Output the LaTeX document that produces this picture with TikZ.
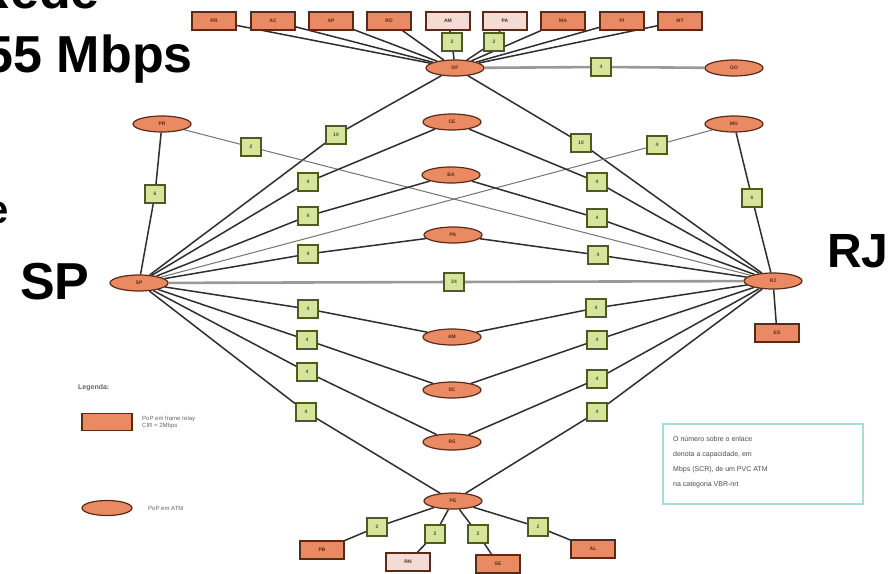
\documentclass[tikz,border=0pt]{standalone}
\usepackage{fontspec}
\setmainfont{Liberation Sans}
\usetikzlibrary{shapes.geometric}
\definecolor{popfill}{HTML}{E98A62}
\definecolor{popedge}{HTML}{5A2A18}
\definecolor{palefill}{HTML}{F2DCD4}
\definecolor{linkfill}{HTML}{D6E49C}
\definecolor{linkedge}{HTML}{4E5A22}
\definecolor{wirecol}{HTML}{2E2E2E}
\definecolor{noteedge}{HTML}{A6DCD2}
\pgfdeclarelayer{bg}
\pgfsetlayers{bg,main}
\tikzset{
  atm/.style={ellipse, draw=popedge, fill=popfill, line width=1.2pt,
    minimum width=58pt, minimum height=16pt, inner sep=0pt,
    font=\fontsize{5}{5}\selectfont\bfseries, text=popedge},
  fr/.style={rectangle, draw=popedge, fill=popfill, line width=1.4pt,
    minimum width=44pt, minimum height=18pt, inner sep=0pt,
    font=\fontsize{5}{5}\selectfont\bfseries, text=popedge},
  frpale/.style={fr, fill=palefill},
  linkbox/.style={rectangle, draw=linkedge, fill=linkfill, line width=1.3pt,
    minimum width=20pt, minimum height=18pt, inner sep=0pt,
    font=\fontsize{5}{5}\selectfont\bfseries, text=linkedge},
  wire/.style={draw=wirecol, line width=1.5pt},
  thinwire/.style={draw=black!55, line width=1pt},
  trunk/.style={draw=black!40, line width=2.6pt},
  bigtxt/.style={font=\fontsize{52}{52}\selectfont\bfseries, inner sep=0pt},
  smalltxt/.style={font=\fontsize{6}{7}\selectfont, text=black!60, inner sep=0pt, align=left},
}
\begin{document}
\begin{tikzpicture}[x=1pt,y=-1pt]
\useasboundingbox (0,0) rectangle (891,573);

% headings
\node[bigtxt, anchor=base east] (h1) at (100,8) {Rede};
\node[bigtxt, anchor=base east] (h2) at (193,72) {155 Mbps};
\node[bigtxt, anchor=base east, font=\fontsize{40}{40}\selectfont\bfseries] (h3) at (9,223) {de};
\node[bigtxt, anchor=base west] (hsp) at (20,299) {SP};
\node[bigtxt, anchor=base west, font=\fontsize{48}{48}\selectfont\bfseries] (hrj) at (827,267) {RJ};

% frame relay PoPs along the top
\node[fr] (t1) at (214,21) {RR};
\node[fr] (t2) at (273,21) {AC};
\node[fr] (t3) at (331,21) {AP};
\node[fr] (t4) at (389,21) {RO};
\node[frpale] (t5) at (448,21) {AM};
\node[frpale] (t6) at (505,21) {PA};
\node[fr] (t7) at (563,21) {MA};
\node[fr] (t8) at (622,21) {PI};
\node[fr] (t9) at (680,21) {MT};
\node[linkbox] (q5) at (452,42) {2};
\node[linkbox] (q6) at (494,42) {2};

% ATM PoPs
\node[atm] (DF) at (455,68) {DF};
\node[linkbox] (qgo) at (601,67) {4};
\node[atm] (GO) at (734,68) {GO};
\node[atm] (PR) at (162,124) {PR};
\node[linkbox] (qpr) at (155,194) {6};
\node[atm] (SP) at (139,283) {SP};
\node[atm] (MG) at (734,124) {MG};
\node[linkbox] (qmg) at (752,198) {6};
\node[atm] (RJ) at (773,281) {RJ};
\node[fr] (ES) at (777,333) {ES};
\node[linkbox] (x1) at (251,147) {2};
\node[linkbox] (x2) at (657,145) {4};
\node[linkbox] (qspdf) at (336,135) {10};
\node[linkbox] (qdfrj) at (581,143) {10};
\node[linkbox] (c) at (454,282) {34};

% middle column of ATM PoPs
\node[atm] (m1) at (452,122) {CE};
\node[atm] (m2) at (451,175) {BA};
\node[atm] (m3) at (453,235) {PA};
\node[atm] (m4) at (452,337) {AM};
\node[atm] (m5) at (452,390) {SC};
\node[atm] (m6) at (452,442) {RS};
\node[atm] (m7) at (453,501) {PE};

% capacity boxes on the SP side
\node[linkbox] (l1) at (308,182) {4};
\node[linkbox] (l2) at (308,216) {4};
\node[linkbox] (l3) at (308,254) {4};
\node[linkbox] (l4) at (308,309) {4};
\node[linkbox] (l5) at (307,340) {4};
\node[linkbox] (l6) at (307,372) {4};
\node[linkbox] (l7) at (306,412) {4};
% capacity boxes on the RJ side
\node[linkbox] (r1) at (597,182) {4};
\node[linkbox] (r2) at (597,218) {4};
\node[linkbox] (r3) at (598,255) {4};
\node[linkbox] (r4) at (596,308) {4};
\node[linkbox] (r5) at (597,340) {4};
\node[linkbox] (r6) at (597,379) {4};
\node[linkbox] (r7) at (597,412) {4};

% north-east frame relay PoPs under PE
\node[linkbox] (b1) at (377,527) {2};
\node[linkbox] (b2) at (435,534) {2};
\node[linkbox] (b3) at (478,534) {2};
\node[linkbox] (b4) at (538,527) {2};
\node[fr] (B1) at (322,550) {PB};
\node[frpale] (B2) at (408,562) {RN};
\node[fr] (B3) at (498,564) {SE};
\node[fr] (B4) at (593,549) {AL};

\begin{pgfonlayer}{bg}
  \fill[white] (0,0) rectangle (891,573);
  \foreach \t in {t1,t2,t3,t4,t7,t8,t9} \draw[wire] (\t) -- (DF);
  \draw[wire] (t5) -- (q5) -- (DF);
  \draw[wire] (t6) -- (q6) -- (DF);
  \draw[trunk] (DF) -- (qgo) -- (GO);
  \draw[trunk] (SP) -- (c) -- (RJ);
  \draw[wire] (SP) -- (qpr) -- (PR);
  \draw[wire] (SP) -- (qspdf) -- (DF);
  \draw[wire] (DF) -- (qdfrj) -- (RJ);
  \draw[thinwire] (PR) -- (x1) -- (RJ);
  \draw[thinwire] (MG) -- (x2) -- (SP);
  \draw[wire] (MG) -- (qmg) -- (RJ);
  \draw[wire] (RJ) -- (ES);
  \foreach \i in {1,...,7} {
    \draw[wire] (SP) -- (l\i) -- (m\i);
    \draw[wire] (RJ) -- (r\i) -- (m\i);
  }
  \foreach \i in {1,...,4} \draw[wire] (m7) -- (b\i) -- (B\i);
\end{pgfonlayer}

% legend
\node[anchor=west, font=\fontsize{7}{7}\selectfont\bfseries, text=black!60, inner sep=0pt] (leg) at (78,388) {Legenda:};
\node[fr, minimum width=50pt, minimum height=17pt] (legfr) at (107,422) {};
\node[smalltxt, anchor=west] (legfrt) at (142,422) {PoP em frame relay\\CIR = 2Mbps};
\node[atm, minimum width=50pt, minimum height=15pt] (legatm) at (107,508) {};
\node[smalltxt, anchor=west] (legatmt) at (148,508) {PoP em ATM};

% note
\node[draw=noteedge, line width=1.2pt, fill=white, minimum width=200pt, minimum height=80pt,
  inner sep=0pt] (note) at (763,464) {};
\node[smalltxt, anchor=north west, font=\fontsize{7}{15}\selectfont, text=black!70] (notet) at (673,436)
  {O número sobre o enlace\\denota a capacidade, em\\Mbps (SCR), de um PVC ATM\\na categoria VBR-nrt};
\end{tikzpicture}
\end{document}
